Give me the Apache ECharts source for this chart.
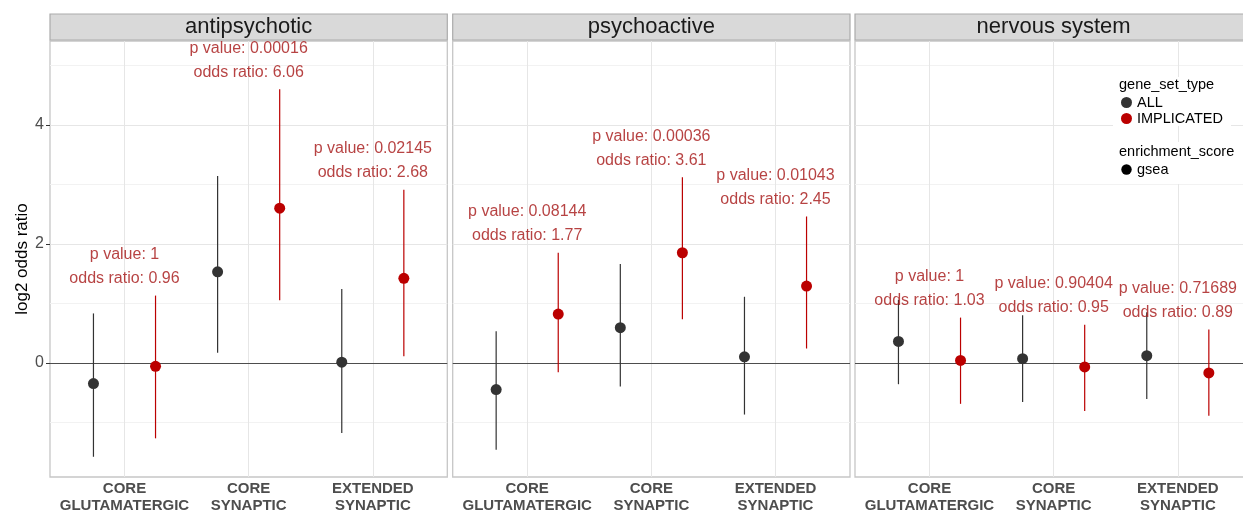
<!DOCTYPE html>
<html><head><meta charset="utf-8">
<script src="https://cdn.jsdelivr.net/npm/echarts@6/dist/echarts.min.js"></script>
<style>html,body{margin:0;padding:0;background:#fff}#c{width:1243px;height:512px}</style>
</head><body><div id="c"></div>
<script>
// ---------- data ----------
const panels = ['antipsychotic', 'psychoactive', 'nervous system'];
const categories = ['CORE\nGLUTAMATERGIC', 'CORE\nSYNAPTIC', 'EXTENDED\nSYNAPTIC'];
const groups = ['ALL', 'IMPLICATED'];

// log2 odds ratio estimates and confidence bounds, per panel, per category
const allEst  = [[-0.35, 1.53, 0.01], [-0.45, 0.59, 0.10], [0.36, 0.07, 0.12]];
const allLow  = [[-1.58, 0.17, -1.18], [-1.46, -0.40, -0.87], [-0.36, -0.66, -0.61]];
const allHigh = [[0.83, 3.14, 1.24], [0.53, 1.66, 1.11], [1.06, 0.80, 0.85]];

const implEst  = [[-0.06, 2.60, 1.42], [0.82, 1.85, 1.29], [0.04, -0.07, -0.17]];
const implLow  = [[-1.27, 1.05, 0.11], [-0.16, 0.73, 0.24], [-0.69, -0.81, -0.89]];
const implHigh = [[1.13, 4.60, 2.91], [1.85, 3.12, 2.46], [0.76, 0.64, 0.56]];

const pValues    = [['1', '0.00016', '0.02145'], ['0.08144', '0.00036', '0.01043'], ['1', '0.90404', '0.71689']];
const oddsRatios = [['0.96', '6.06', '2.68'], ['1.77', '3.61', '2.45'], ['1.03', '0.95', '0.89']];

const yMajorTicks = [0, 2, 4];
const yMinorLines = [-1, 1, 3, 5];
const xCategoryPositions = [1, 2, 3];

// ---------- layout / style ----------
const FONT = '"Liberation Sans", Arial, Helvetica, sans-serif';
const COL_ALL = '#333333';
const COL_IMP = '#BB0000';
const COL_TXT = '#A51414';
const Y_MIN = -1.92, Y_MAX = 5.41;
const X_MIN = 0.4, X_MAX = 3.6;
const DODGE = 0.25;
const gridLefts = [50, 452.7, 855];
const gridW = 397.3, gridTop = 41, gridH = 436;

const chart = echarts.init(document.getElementById('c'), null, {renderer: 'canvas'});

const grid = [], xAxis = [], yAxis = [], series = [], graphic = [];

panels.forEach((panel, i) => {
  grid.push({left: gridLefts[i], top: gridTop, width: gridW, height: gridH,
    outerBoundsMode: 'none', containLabel: false,
    show: true, borderColor: '#C6C6C6', borderWidth: 1.3, backgroundColor: '#fff'});
  xAxis.push({type: 'value', gridIndex: i, min: X_MIN, max: X_MAX,
    axisLine: {show: false}, splitLine: {show: false},
    axisTick: {show: true, customValues: xCategoryPositions, length: 4, lineStyle: {color: '#333', width: 1}},
    axisLabel: {customValues: xCategoryPositions, formatter: v => categories[Math.round(v) - 1],
      fontFamily: FONT, fontSize: 15, fontWeight: 'bold', color: '#4D4D4D', lineHeight: 17, margin: 3}});
  yAxis.push({type: 'value', gridIndex: i, min: Y_MIN, max: Y_MAX,
    axisLine: {show: false}, splitLine: {show: false},
    axisTick: {show: i === 0, customValues: yMajorTicks, length: 4, lineStyle: {color: '#333', width: 1}},
    axisLabel: {show: i === 0, customValues: yMajorTicks, fontFamily: FONT, fontSize: 16, color: '#4D4D4D', margin: 6},
    name: i === 0 ? 'log2 odds ratio' : '', nameLocation: 'middle', nameGap: 18,
    nameTextStyle: {fontFamily: FONT, fontSize: 17, color: '#000'}});

  // grid lines + zero line
  series.push({type: 'line', data: [], xAxisIndex: i, yAxisIndex: i, z: 1, silent: true,
    markLine: {silent: true, z: 1, symbol: ['none', 'none'], label: {show: false}, animation: false,
      emphasis: {disabled: true},
      data: [
        ...yMinorLines.map(v => ({yAxis: v, lineStyle: {color: '#F2F2F2', width: 1, type: 'solid'}})),
        ...yMajorTicks.map(v => ({yAxis: v, lineStyle: {color: '#E6E6E6', width: 1, type: 'solid'}})),
        ...xCategoryPositions.map(v => ({xAxis: v, lineStyle: {color: '#E6E6E6', width: 1, type: 'solid'}})),
        {yAxis: 0, lineStyle: {color: '#4D4D4D', width: 1, type: 'solid'}}
      ]}});

  const defs = [
    {name: 'ALL', est: allEst, low: allLow, high: allHigh, off: -DODGE, color: COL_ALL},
    {name: 'IMPLICATED', est: implEst, low: implLow, high: implHigh, off: DODGE, color: COL_IMP}
  ];
  defs.forEach(d => {
    series.push({type: 'custom', name: d.name + ' interval', xAxisIndex: i, yAxisIndex: i, z: 3, silent: true,
      encode: {x: 0, y: [1, 2]},
      data: categories.map((c, j) => [j + 1 + d.off, d.low[i][j], d.high[i][j]]),
      renderItem: (params, api) => {
        const p1 = api.coord([api.value(0), api.value(1)]);
        const p2 = api.coord([api.value(0), api.value(2)]);
        return {type: 'line', shape: {x1: p1[0], y1: p1[1], x2: p2[0], y2: p2[1]},
          style: {stroke: d.color, lineWidth: 1.2}};
      }});
    series.push({type: 'scatter', name: d.name, xAxisIndex: i, yAxisIndex: i, z: 4, silent: true,
      symbol: 'circle', symbolSize: 11, itemStyle: {color: d.color, opacity: 1},
      data: categories.map((c, j) => [j + 1 + d.off, d.est[i][j]])});
  });

  // annotation text above the IMPLICATED interval, centered on category
  series.push({type: 'scatter', name: 'annotation', xAxisIndex: i, yAxisIndex: i, z: 6, silent: true,
    symbolSize: 0,
    data: categories.map((c, j) => [j + 1, implHigh[i][j]]),
    label: {show: true, position: 'top', distance: 5,
      formatter: p => 'p value: ' + pValues[i][p.dataIndex] + '\nodds ratio: ' + oddsRatios[i][p.dataIndex],
      fontFamily: FONT, fontSize: 16, lineHeight: 24, color: COL_TXT, align: 'center'}});

  // facet strip
  graphic.push({type: 'rect', z: 10, shape: {x: gridLefts[i], y: 14, width: gridW, height: 26},
    style: {fill: '#D9D9D9', stroke: '#ABABAB', lineWidth: 1.2}});
  graphic.push({type: 'text', z: 11, x: gridLefts[i] + gridW / 2, y: 27,
    style: {text: panel, font: '22px ' + FONT, fill: '#1A1A1A', textAlign: 'center', textVerticalAlign: 'middle'}});
});

// legend backgrounds and titles
graphic.push({type: 'rect', z: 2, shape: {x: 1113, y: 77, width: 118, height: 49}, style: {fill: '#fff'}});
graphic.push({type: 'rect', z: 2, shape: {x: 1113, y: 142, width: 140, height: 42}, style: {fill: '#fff'}});
graphic.push({type: 'text', z: 11, x: 1119, y: 85,
  style: {text: 'gene_set_type', font: '14.5px ' + FONT, fill: '#000', textAlign: 'left', textVerticalAlign: 'middle'}});
graphic.push({type: 'text', z: 11, x: 1119, y: 152,
  style: {text: 'enrichment_score', font: '14.5px ' + FONT, fill: '#000', textAlign: 'left', textVerticalAlign: 'middle'}});
graphic.push({type: 'circle', z: 11, shape: {cx: 1126.5, cy: 169.5, r: 5.2}, style: {fill: '#000'}});
graphic.push({type: 'text', z: 11, x: 1137, y: 169.5,
  style: {text: 'gsea', font: '14.5px ' + FONT, fill: '#000', textAlign: 'left', textVerticalAlign: 'middle'}});

chart.setOption({
  animation: false,
  backgroundColor: '#fff',
  textStyle: {fontFamily: FONT},
  grid, xAxis, yAxis, series, graphic,
  legend: {data: groups, orient: 'vertical', left: 1121, top: 95, padding: 0, itemGap: 1,
    icon: 'circle', itemWidth: 11, itemHeight: 11, selectedMode: false, z: 12,
    textStyle: {fontFamily: FONT, fontSize: 14.5, color: '#000'}}
});
</script></body></html>
